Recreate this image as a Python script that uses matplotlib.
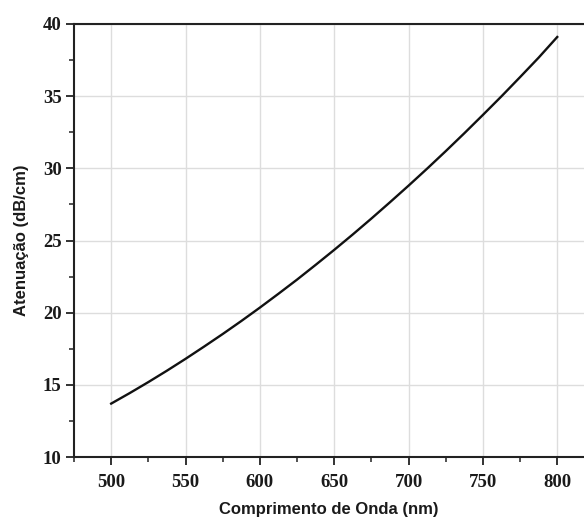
import matplotlib.pyplot as plt
from matplotlib.ticker import MultipleLocator

# wavelength (nm) and attenuation (dB/cm)
wavelength = [500, 512.5, 525, 537.5, 550, 562.5, 575, 587.5, 600, 612.5, 625,
              637.5, 650, 662.5, 675, 687.5, 700, 712.5, 725, 737.5, 750,
              762.5, 775, 787.5, 800]
attenuation = [13.70, 14.43, 15.19, 15.98, 16.80, 17.65, 18.52, 19.42, 20.35,
               21.31, 22.29, 23.31, 24.35, 25.42, 26.52, 27.65, 28.80, 29.98,
               31.19, 32.43, 33.70, 34.99, 36.32, 37.67, 39.10]

fig = plt.figure(figsize=(5.84, 5.22), dpi=100)
ax = fig.add_axes([74 / 584, (522 - 457) / 522, 1 - 74 / 584, (457 - 24) / 522])

ax.plot(wavelength, attenuation, color="#111111", lw=1.7, solid_joinstyle="round")

ax.set_xlim(475, 818)
ax.set_ylim(10, 40)
ax.xaxis.set_major_locator(MultipleLocator(50))
ax.xaxis.set_minor_locator(MultipleLocator(25))
ax.yaxis.set_major_locator(MultipleLocator(5))
ax.yaxis.set_minor_locator(MultipleLocator(2.5))
ax.grid(True, which="major", color="#dddddd", lw=1.0)
ax.set_axisbelow(True)

for s in ["left", "bottom", "top"]:
    ax.spines[s].set_linewidth(1.5)
    ax.spines[s].set_color("#222222")
ax.spines["right"].set_visible(False)

ax.tick_params(which="major", direction="out", length=6, width=1.3, color="#222222")
ax.tick_params(which="minor", direction="out", length=3.5, width=1.1, color="#222222")
for lab in ax.get_xticklabels() + ax.get_yticklabels():
    lab.set_fontfamily("Liberation Serif")
    lab.set_fontweight("bold")
    lab.set_fontsize(13.5)
    lab.set_color("#1a1a1a")
ax.tick_params(axis="x", pad=6)
ax.tick_params(axis="y", pad=3)

ax.set_xlabel("Comprimento de Onda (nm)", fontfamily="Liberation Sans",
              fontweight="bold", fontsize=12, labelpad=8, color="#1a1a1a")
ax.set_ylabel("Atenuação (dB/cm)", fontfamily="Liberation Sans",
              fontweight="bold", fontsize=12, labelpad=10, color="#1a1a1a")

fig.savefig("out.png", dpi=100)
